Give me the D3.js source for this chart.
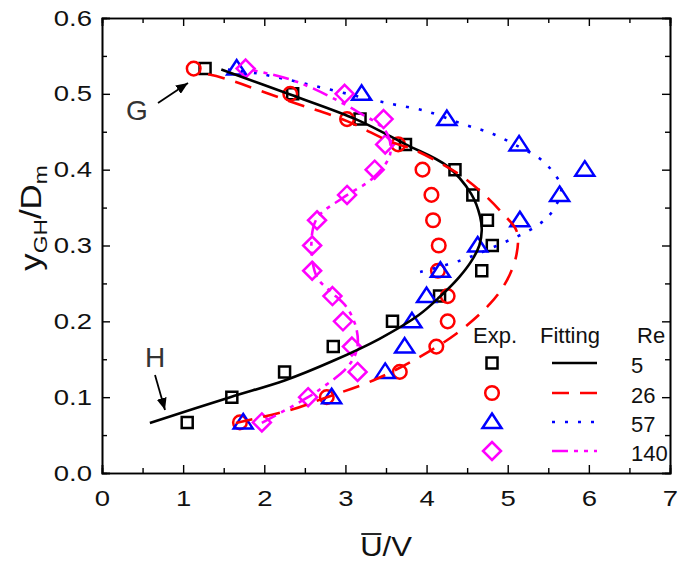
<!DOCTYPE html>
<html>
<head>
<meta charset="utf-8">
<script src="https://cdn.jsdelivr.net/npm/d3@7"></script>
<style>
  html, body { margin: 0; padding: 0; background: #fff; }
  svg { display: block; font-family: "Liberation Sans", Arial, sans-serif; }
</style>
</head>
<body>
<svg id="chart" width="678" height="561"></svg>
<script>
// ---------------- data ----------------
const yExp = [0.0667, 0.1, 0.1333, 0.1667, 0.2, 0.2333, 0.2667, 0.3, 0.3333, 0.3667, 0.4, 0.4333, 0.4667, 0.5, 0.5333];
const re5U   = [1.05, 1.60, 2.25, 2.85, 3.58, 4.16, 4.68, 4.81, 4.75, 4.57, 4.35, 3.74, 3.18, 2.35, 1.27];
const re26U  = [1.70, 2.77, 3.67, 4.12, 4.26, 4.26, 4.14, 4.15, 4.08, 4.06, 3.95, 3.65, 3.02, 2.32, 1.13];
const re57U  = [1.74, 2.83, 3.49, 3.73, 3.82, 4.00, 4.17, 4.63, 5.15, 5.64, 5.95, 5.14, 4.25, 3.20, 1.66];
const re140U = [1.97, 2.54, 3.15, 3.08, 2.97, 2.84, 2.59, 2.59, 2.65, 3.02, 3.36, 3.49, 3.47, 2.99, 1.77];

const fit5U = [0.59, 1.58, 2.25, 2.85, 3.42, 3.90, 4.16, 4.40, 4.55, 4.65, 4.68, 4.66, 4.55, 4.25, 3.73, 3.14, 2.32, 1.47];
const fit5Y = [0.066, 0.100, 0.122, 0.148, 0.177, 0.208, 0.232, 0.258, 0.279, 0.300, 0.320, 0.338, 0.368, 0.405, 0.434, 0.466, 0.499, 0.532];

const fit26U = [1.65, 2.32, 2.72, 3.34, 3.83, 4.37, 4.78, 4.99, 5.11, 5.11, 4.94, 4.66, 4.37, 3.83, 3.55, 3.02, 2.32, 1.49, 1.25];
const fit26Y = [0.066, 0.083, 0.098, 0.122, 0.148, 0.184, 0.223, 0.254, 0.289, 0.319, 0.342, 0.372, 0.396, 0.427, 0.437, 0.464, 0.490, 0.521, 0.527];

const fit57U = [3.92, 4.41, 4.85, 5.36, 5.55, 5.66, 5.55, 5.39, 5.14, 4.82, 4.45, 4.00, 3.55, 3.30, 2.40, 1.91, 1.54];
const fit57Y = [0.265, 0.280, 0.299, 0.326, 0.345, 0.376, 0.398, 0.415, 0.430, 0.447, 0.460, 0.477, 0.487, 0.493, 0.516, 0.527, 0.532];

const fit140U = [1.97, 2.54, 2.72, 3.02, 3.14, 3.14, 3.02, 2.81, 2.65, 2.58, 2.65, 2.97, 3.34, 3.55, 3.50, 3.14, 2.40, 1.82];
const fit140Y = [0.066, 0.100, 0.113, 0.139, 0.162, 0.188, 0.218, 0.240, 0.258, 0.300, 0.336, 0.363, 0.389, 0.420, 0.450, 0.477, 0.516, 0.532];

const reLabels = ["5", "26", "57", "140"];
const xTicks = [0, 1, 2, 3, 4, 5, 6, 7];
const yTicks = [0.0, 0.1, 0.2, 0.3, 0.4, 0.5, 0.6];

// ---------------- setup ----------------
const svg = d3.select("#chart");
const L = 102, R = 670, T = 18, B = 473;
const x = d3.scaleLinear().domain([0, 7]).range([L, R]);
const y = d3.scaleLinear().domain([0, 0.6]).range([B, T]);

const styles = [
  { color: "#000000", dash: null, shape: "square" },
  { color: "#ff0000", dash: "17,11", shape: "circle" },
  { color: "#0000ff", dash: "3,10", shape: "triangle" },
  { color: "#ff00ff", dash: "16,6,4,6,4,6", shape: "diamond" }
];
const expSeries = [re5U, re26U, re57U, re140U];
const fitSeries = [[fit5U, fit5Y], [fit26U, fit26Y], [fit57U, fit57Y], [fit140U, fit140Y]];

function markerPath(shape) {
  if (shape === "square") return "M-5.5,-5.5H5.5V5.5H-5.5Z";
  if (shape === "triangle") return "M0,-8.5L9.5,6L-9.5,6Z";
  if (shape === "diamond") return "M0,-9L9,0L0,9L-9,0Z";
  return null;
}
function drawMarker(g, shape, color, cx, cy) {
  if (shape === "circle") {
    g.append("circle").attr("cx", cx).attr("cy", cy).attr("r", 6.8)
      .attr("fill", "none").attr("stroke", color).attr("stroke-width", 2.5);
  } else {
    g.append("path").attr("d", markerPath(shape))
      .attr("transform", `translate(${cx},${cy})`)
      .attr("fill", "none").attr("stroke", color).attr("stroke-width", 2.5)
      .attr("stroke-linejoin", "miter");
  }
}

// ---------------- axes ----------------
const tickFont = "22px";
const stretch = 1.25;

const gxB = svg.append("g").attr("transform", `translate(0,${B})`)
  .call(d3.axisBottom(x).tickValues(xTicks).tickFormat(d3.format("d")).tickSize(-8).tickPadding(17));
svg.append("g").attr("transform", `translate(0,${B})`)
  .call(d3.axisBottom(x).tickValues(d3.range(0.5, 7, 1)).tickFormat("").tickSize(-5));
svg.append("g").attr("transform", `translate(0,${T})`)
  .call(d3.axisTop(x).tickValues(xTicks).tickFormat("").tickSize(-8));
svg.append("g").attr("transform", `translate(0,${T})`)
  .call(d3.axisTop(x).tickValues(d3.range(0.5, 7, 1)).tickFormat("").tickSize(-5));
const gyL = svg.append("g").attr("transform", `translate(${L},0)`)
  .call(d3.axisLeft(y).tickValues(yTicks).tickFormat(d3.format(".1f")).tickSize(-8).tickPadding(8));
svg.append("g").attr("transform", `translate(${L},0)`)
  .call(d3.axisLeft(y).tickValues(d3.range(0.05, 0.6, 0.1)).tickFormat("").tickSize(-5));
svg.append("g").attr("transform", `translate(${R},0)`)
  .call(d3.axisRight(y).tickValues(yTicks).tickFormat("").tickSize(-8));
svg.append("g").attr("transform", `translate(${R},0)`)
  .call(d3.axisRight(y).tickValues(d3.range(0.05, 0.6, 0.1)).tickFormat("").tickSize(-5));

svg.selectAll(".domain").attr("stroke", "#000").attr("stroke-width", 1.6);
svg.selectAll(".tick line").attr("stroke", "#000").attr("stroke-width", 1.4);
svg.selectAll(".tick text").attr("font-size", tickFont).attr("fill", "#111")
  .attr("font-family", "'Liberation Sans', Arial, sans-serif");
gxB.selectAll(".tick text").attr("transform", `scale(${stretch},1)`);
gyL.selectAll(".tick text").attr("x", -10 / stretch).attr("transform", `scale(${stretch},1)`);

// ---------------- data ----------------
const plot = svg.append("g");
const line = d3.line().x(d => x(d[0])).y(d => y(d[1])).curve(d3.curveCatmullRom.alpha(0.5));

expSeries.forEach((arr, i) => {
  const st = styles[i];
  const g = plot.append("g");
  arr.forEach((u, k) => drawMarker(g, st.shape, st.color, x(u), y(yExp[k])));
});
fitSeries.forEach((f, i) => {
  const st = styles[i];
  const pts = f[0].map((u, k) => [u, f[1][k]]);
  plot.append("path").datum(pts).attr("d", line)
    .attr("fill", "none").attr("stroke", st.color).attr("stroke-width", 2.6)
    .attr("stroke-dasharray", st.dash).attr("stroke-linecap", "butt");
});

// ---------------- legend ----------------
const lg = svg.append("g").attr("font-size", "22px").attr("fill", "#111");
lg.append("text").attr("x", 473).attr("y", 343).text("Exp.");
lg.append("text").attr("x", 540).attr("y", 343).text("Fitting");
lg.append("text").attr("x", 637).attr("y", 343).text("Re");
const rowY = [363, 393, 422, 451];
styles.forEach((st, i) => {
  drawMarker(lg, st.shape, st.color, 492, rowY[i]);
  lg.append("line").attr("x1", 552).attr("x2", 597).attr("y1", rowY[i]).attr("y2", rowY[i])
    .attr("stroke", st.color).attr("stroke-width", 2.6).attr("stroke-dasharray", st.dash);
  lg.append("text").attr("x", 631).attr("y", rowY[i] + 9.5).text(reLabels[i]);
});

// ---------------- axis titles ----------------
const xt = svg.append("g").attr("transform", `translate(386,556) scale(1.15,1)`);
const xtText = xt.append("text").attr("text-anchor", "middle").attr("font-size", "27px").attr("fill", "#111");
xtText.append("tspan").text("U");
xtText.append("tspan").text("/V");
{
  const ext = xtText.node().getExtentOfChar(0);
  xt.append("line").attr("x1", ext.x + 1).attr("x2", ext.x + ext.width - 1)
    .attr("y1", -22).attr("y2", -22).attr("stroke", "#111").attr("stroke-width", 1.8);
}

const yt = svg.append("text").attr("transform", "translate(41,218) rotate(-90) scale(1.2,1)")
  .attr("text-anchor", "middle").attr("font-size", "29px").attr("fill", "#111");
yt.append("tspan").text("y");
yt.append("tspan").attr("font-size", "19px").attr("dy", 6).text("GH");
yt.append("tspan").attr("dy", -6).text("/D");
yt.append("tspan").attr("font-size", "19px").attr("dy", 6).text("m");

// ---------------- annotations ----------------
svg.append("defs").append("marker").attr("id", "arrow")
  .attr("viewBox", "0 0 12 10").attr("refX", 12).attr("refY", 5)
  .attr("markerWidth", 12).attr("markerHeight", 10).attr("markerUnits", "userSpaceOnUse")
  .attr("orient", "auto")
  .append("path").attr("d", "M0,0L12,5L0,10Z").attr("fill", "#000");

svg.append("text").attr("x", 126).attr("y", 120).attr("font-size", "28px").attr("fill", "#333").text("G");
svg.append("line").attr("x1", 158).attr("y1", 103).attr("x2", 188).attr("y2", 83)
  .attr("stroke", "#000").attr("stroke-width", 1.8).attr("marker-end", "url(#arrow)");

svg.append("text").attr("x", 145).attr("y", 367).attr("font-size", "28px").attr("fill", "#333").text("H");
svg.append("line").attr("x1", 155).attr("y1", 375).attr("x2", 165).attr("y2", 410)
  .attr("stroke", "#000").attr("stroke-width", 1.8).attr("marker-end", "url(#arrow)");
</script>
</body>
</html>
